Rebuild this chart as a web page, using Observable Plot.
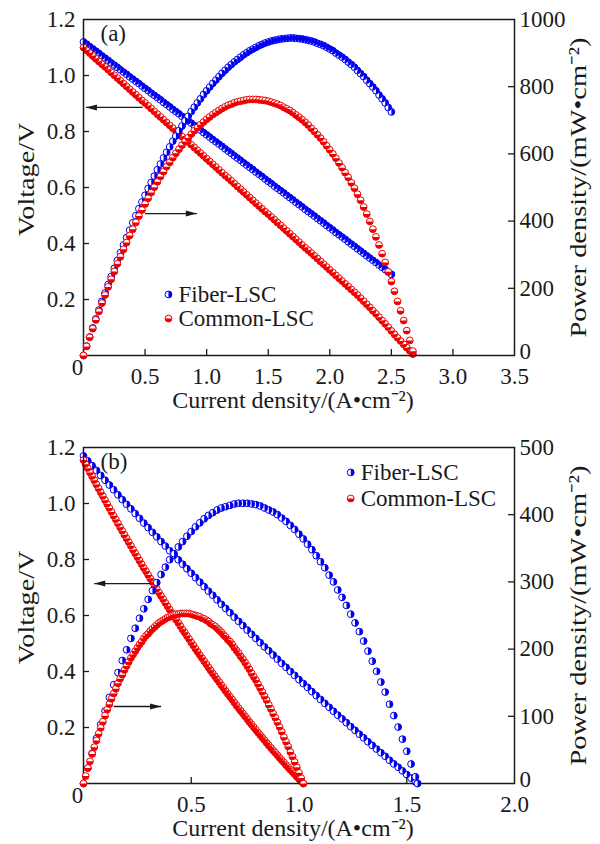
<!DOCTYPE html>
<html><head><meta charset="utf-8">
<script src="https://cdn.jsdelivr.net/npm/d3@7"></script>
<script src="https://cdn.jsdelivr.net/npm/@observablehq/plot@0.6"></script>
<style>
body{margin:0;background:#fff;overflow:hidden;width:600px;height:844px}
.panel{position:absolute;left:0;width:600px;height:416px}
.panel svg{position:absolute;left:0;top:0}
</style></head><body>
<div id="a" class="panel" style="top:0"></div>
<div id="b" class="panel" style="top:428px"></div>
<script>
// ---------- Panel (a) data ----------
const aFiberI = [0,0.025,0.05,0.075,0.1,0.125,0.15,0.175,0.2,0.225,0.25,0.275,0.3,0.325,0.35,0.375,0.4,0.425,0.45,0.475,0.5,0.525,0.55,0.575,0.6,0.625,0.65,0.675,0.7,0.725,0.75,0.775,0.8,0.825,0.85,0.875,0.9,0.925,0.95,0.975,1,1.025,1.05,1.075,1.1,1.125,1.15,1.175,1.2,1.225,1.25,1.275,1.3,1.325,1.35,1.375,1.4,1.425,1.45,1.475,1.5,1.525,1.55,1.575,1.6,1.625,1.65,1.675,1.7,1.725,1.75,1.775,1.8,1.825,1.85,1.875,1.9,1.925,1.95,1.975,2,2.025,2.05,2.075,2.1,2.125,2.15,2.175,2.2,2.225,2.25,2.275,2.3,2.325,2.35,2.375,2.4,2.425,2.45,2.475,2.5];
const aFiberV = [1.120,1.112,1.103,1.095,1.087,1.079,1.070,1.062,1.054,1.045,1.037,1.029,1.020,1.012,1.004,0.995,0.987,0.979,0.971,0.962,0.954,0.946,0.937,0.929,0.921,0.913,0.904,0.896,0.888,0.879,0.871,0.863,0.854,0.846,0.838,0.830,0.821,0.813,0.805,0.796,0.788,0.780,0.771,0.763,0.755,0.747,0.738,0.730,0.722,0.713,0.705,0.697,0.688,0.680,0.672,0.664,0.655,0.647,0.639,0.630,0.622,0.614,0.605,0.597,0.589,0.581,0.572,0.564,0.556,0.547,0.539,0.531,0.522,0.514,0.506,0.498,0.489,0.481,0.473,0.464,0.456,0.448,0.439,0.431,0.423,0.415,0.406,0.398,0.390,0.381,0.373,0.365,0.356,0.348,0.340,0.332,0.323,0.315,0.307,0.298,0.290];
const aFiberP = [0,28,55,82,109,135,161,186,211,235,259,283,306,329,351,373,395,416,437,457,477,497,515,534,553,570,588,605,621,638,653,669,683,698,712,726,739,752,764,777,788,799,810,820,830,840,849,858,866,874,881,888,895,901,907,912,917,922,926,930,933,936,938,940,942,943,944,945,945,944,943,942,940,938,936,933,929,926,922,917,912,907,900,894,888,881,873,866,858,848,839,830,819,809,799,788,775,764,752,738,725];
const aCommonI = [0,0.025,0.05,0.075,0.1,0.125,0.15,0.175,0.2,0.225,0.25,0.275,0.3,0.325,0.35,0.375,0.4,0.425,0.45,0.475,0.5,0.525,0.55,0.575,0.6,0.625,0.65,0.675,0.7,0.725,0.75,0.775,0.8,0.825,0.85,0.875,0.9,0.925,0.95,0.975,1,1.025,1.05,1.075,1.1,1.125,1.15,1.175,1.2,1.225,1.25,1.275,1.3,1.325,1.35,1.375,1.4,1.425,1.45,1.475,1.5,1.525,1.55,1.575,1.6,1.625,1.65,1.675,1.7,1.725,1.75,1.775,1.8,1.825,1.85,1.875,1.9,1.925,1.95,1.975,2,2.025,2.05,2.075,2.1,2.125,2.15,2.175,2.2,2.225,2.25,2.275,2.3,2.325,2.35,2.375,2.4,2.425,2.45,2.475,2.5,2.525,2.55,2.575,2.6,2.625,2.65,2.675];
const aCommonV = [1.100,1.090,1.080,1.070,1.060,1.050,1.040,1.031,1.021,1.011,1.001,0.991,0.981,0.971,0.961,0.951,0.941,0.931,0.921,0.911,0.902,0.892,0.882,0.872,0.862,0.852,0.842,0.832,0.822,0.812,0.802,0.792,0.782,0.772,0.763,0.753,0.743,0.733,0.723,0.713,0.703,0.693,0.683,0.673,0.663,0.653,0.643,0.634,0.624,0.614,0.604,0.594,0.584,0.574,0.564,0.554,0.544,0.534,0.524,0.514,0.505,0.495,0.485,0.475,0.465,0.455,0.445,0.435,0.425,0.415,0.405,0.395,0.385,0.376,0.366,0.356,0.346,0.336,0.326,0.316,0.306,0.296,0.286,0.276,0.266,0.256,0.246,0.236,0.226,0.216,0.205,0.194,0.183,0.172,0.160,0.149,0.137,0.125,0.113,0.101,0.088,0.076,0.063,0.052,0.040,0.028,0.017,0.005];
const aCommonP = [0,27,54,80,106,131,156,180,204,227,250,273,294,316,336,357,376,396,415,433,451,468,485,501,517,533,547,562,575,589,602,614,626,637,648,659,669,678,687,695,703,710,717,723,729,735,740,745,748,752,755,757,759,761,762,762,762,761,760,759,757,754,751,748,744,739,734,729,723,716,709,702,694,686,676,667,657,647,636,624,612,600,587,573,559,544,530,514,498,480,462,442,421,399,376,353,329,303,277,249,220,191,161,133,104,74,45,13];

// ---------- Panel (b) data ----------
const bFiberI = [0,0.02,0.04,0.06,0.08,0.1,0.12,0.14,0.16,0.18,0.2,0.22,0.24,0.26,0.28,0.3,0.32,0.34,0.36,0.38,0.4,0.42,0.44,0.46,0.48,0.5,0.52,0.54,0.56,0.58,0.6,0.62,0.64,0.66,0.68,0.7,0.72,0.74,0.76,0.78,0.8,0.82,0.84,0.86,0.88,0.9,0.92,0.94,0.96,0.98,1,1.02,1.04,1.06,1.08,1.1,1.12,1.14,1.16,1.18,1.2,1.22,1.24,1.26,1.28,1.3,1.32,1.34,1.36,1.38,1.4,1.42,1.44,1.46,1.48,1.5,1.52,1.54,1.55];
const bFiberV = [1.170,1.152,1.135,1.118,1.100,1.083,1.066,1.049,1.031,1.014,0.997,0.981,0.964,0.947,0.930,0.914,0.897,0.881,0.864,0.848,0.831,0.815,0.799,0.783,0.767,0.751,0.735,0.719,0.703,0.687,0.672,0.656,0.640,0.625,0.610,0.594,0.579,0.564,0.548,0.533,0.518,0.503,0.488,0.474,0.459,0.444,0.429,0.415,0.400,0.386,0.371,0.357,0.343,0.328,0.314,0.300,0.286,0.272,0.258,0.244,0.231,0.217,0.203,0.190,0.176,0.163,0.149,0.136,0.123,0.110,0.097,0.083,0.070,0.058,0.045,0.032,0.019,0.006,0.000];
const bFiberP = [0,23,45,67,88,108,128,147,165,183,199,216,231,246,260,274,287,299,311,322,333,342,352,360,368,375,382,388,394,399,403,407,410,412,414,416,417,417,417,416,415,413,410,407,404,400,395,390,384,378,371,364,356,348,339,330,321,310,300,288,277,265,252,239,226,212,197,182,167,151,136,118,101,84,66,48,29,10,0];
const bCommonI = [0,0.01,0.02,0.03,0.04,0.05,0.06,0.07,0.08,0.09,0.1,0.11,0.12,0.13,0.14,0.15,0.16,0.17,0.18,0.19,0.2,0.21,0.22,0.23,0.24,0.25,0.26,0.27,0.28,0.29,0.3,0.31,0.32,0.33,0.34,0.35,0.36,0.37,0.38,0.39,0.4,0.41,0.42,0.43,0.44,0.45,0.46,0.47,0.48,0.49,0.5,0.51,0.52,0.53,0.54,0.55,0.56,0.57,0.58,0.59,0.6,0.61,0.62,0.63,0.64,0.65,0.66,0.67,0.68,0.69,0.7,0.71,0.72,0.73,0.74,0.75,0.76,0.77,0.78,0.79,0.8,0.81,0.82,0.83,0.84,0.85,0.86,0.87,0.88,0.89,0.9,0.91,0.92,0.93,0.94,0.95,0.96,0.97,0.98,0.99,1,1.01,1.02];
const bCommonV = [1.155,1.140,1.126,1.111,1.097,1.083,1.068,1.054,1.040,1.026,1.012,0.998,0.984,0.970,0.956,0.943,0.929,0.915,0.902,0.888,0.875,0.862,0.849,0.835,0.822,0.809,0.796,0.783,0.770,0.758,0.745,0.732,0.720,0.707,0.695,0.682,0.670,0.658,0.645,0.633,0.621,0.609,0.597,0.585,0.574,0.562,0.550,0.539,0.527,0.516,0.504,0.493,0.481,0.470,0.459,0.448,0.437,0.426,0.415,0.404,0.393,0.383,0.372,0.362,0.351,0.341,0.330,0.320,0.310,0.300,0.289,0.279,0.269,0.259,0.250,0.240,0.230,0.220,0.211,0.201,0.192,0.182,0.173,0.164,0.155,0.145,0.136,0.127,0.118,0.110,0.101,0.092,0.083,0.075,0.066,0.058,0.049,0.041,0.033,0.024,0.016,0.008,0.000];
const bCommonP = [0,11,23,33,44,54,64,74,83,92,101,110,118,126,134,141,149,156,162,169,175,181,187,192,197,202,207,211,216,220,223,227,230,233,236,239,241,243,245,247,248,250,251,252,252,253,253,253,253,253,252,251,250,249,248,246,245,243,241,238,236,234,231,228,225,221,218,214,211,207,202,198,194,189,185,180,175,170,164,159,154,148,142,136,130,124,117,111,104,98,91,84,77,69,62,55,47,40,32,24,16,8,0];

// ---------- Axis ticks / labels ----------
const seriesNames = ["Fiber-LSC", "Common-LSC"];
const xTicksA = [0.5,1.0,1.5,2.0,2.5,3.0,3.5];
const xTicksB = [0.5,1.0,1.5,2.0];
const vTicks = [0.2,0.4,0.6,0.8,1.0,1.2];
const pTicksA = [0,200,400,600,800,1000];
const pTicksB = [0,100,200,300,400,500];
const xTitle = "Current density/(A\u2022cm\u207B\u00B2)";
const vTitle = "Voltage/V";
const pTitle = "Power density/(mW\u2022cm\u207B\u00B2)";

// annotations (data units)
const arrowsA = [{x1:0.48, x2:0.02, v:0.886, rot:180}, {x1:0.50, x2:0.92, v:0.507, rot:0}];
const arrowsB = [{x1:0.31, x2:0.05, v:0.714, rot:180}, {x1:0.14, x2:0.36, v:0.275, rot:0}];
const legendA = [{x:0.69, v:0.218}, {x:0.69, v:0.132}];
const legendB = [{x:1.24, v:1.111}, {x:1.24, v:1.018}];

const BLUE = "#0000f0", RED = "#f00000", INK = "#1a1a1a";
const W = 600, H = 416, M = {top:19, right:86, bottom:61, left:83};
const FW = W - M.left - M.right, FH = H - M.top - M.bottom;
const FONT = "'Liberation Serif','Times New Roman',serif";
const style = {fontFamily: FONT, fontSize: "23px", background: "transparent", color: INK, overflow: "visible"};

const halfRight = {draw(ctx, size){const r = Math.sqrt(size/Math.PI); ctx.moveTo(0,-r); ctx.arc(0,0,r,-Math.PI/2,Math.PI/2); ctx.closePath();}};
const halfBottom = {draw(ctx, size){const r = Math.sqrt(size/Math.PI); ctx.moveTo(r,0); ctx.arc(0,0,r,0,Math.PI); ctx.closePath();}};
const head = {draw(ctx){ctx.moveTo(0,0); ctx.lineTo(-11,-3); ctx.lineTo(-11,3); ctx.closePath();}};

function rows(I, Y){ return I.map((x,i) => ({x, y: Y[i]})); }
function markers(data, color, half, r = 3.4){
  return [
    Plot.dot(data, {x:"x", y:"y", r, stroke: color, fill: "white", strokeWidth: 1}),
    Plot.dot(data, {x:"x", y:"y", r, symbol: half, fill: color, stroke: "none"})
  ];
}
// stretch the rotated titles along their length, as in the original figure
function stretch(svg, text, len){
  svg.querySelectorAll("text").forEach(t => {
    if (t.textContent === text) { t.setAttribute("textLength", len); t.setAttribute("lengthAdjust", "spacingAndGlyphs"); }
  });
}

function panel(el, cfg){
  const fiberV = rows(cfg.fI, cfg.fV), commonV = rows(cfg.cI, cfg.cV);
  const fiberP = rows(cfg.fI, cfg.fP), commonP = rows(cfg.cI, cfg.cP);
  const xInner = cfg.xTicks.filter(d => d < cfg.xmax);
  const common = {width: W, height: H, marginTop: M.top, marginRight: M.right, marginBottom: M.bottom, marginLeft: M.left, style};
  const voltage = Plot.plot({
    ...common,
    x: {domain: [0, cfg.xmax]},
    y: {domain: [0, 1.2]},
    marks: [
      ...markers(fiberV, BLUE, halfRight),
      ...markers(commonV, RED, halfBottom),
      Plot.tickY(vTicks.slice(0,-1), {y: d => d, insetRight: FW - 6, stroke: INK, strokeWidth: 1.3}),
      Plot.tickX(xInner, {x: d => d, insetTop: FH - 6, stroke: INK, strokeWidth: 1.3}),
      Plot.axisY(vTicks, {anchor: "left", tickSize: 0, tickPadding: 8, tickFormat: ".1f", label: null}),
      Plot.axisX(cfg.xTicks, {anchor: "bottom", tickSize: 0, tickPadding: 12, tickFormat: ".1f", label: null}),
      Plot.text(["0"], {x: 0, y: 0, text: d => d, dx: -6, dy: 12}),
      Plot.text([xTitle], {frameAnchor: "bottom", text: d => d, dx: -6, dy: 52, fontSize: 24}),
      Plot.text([vTitle], {frameAnchor: "left", text: d => d, textAnchor: "middle", rotate: -90, dx: -57, dy: -8, fontSize: 24}),
      Plot.text([cfg.tag], {frameAnchor: "top-left", text: d => d, dx: 17, dy: 5}),
      Plot.link(cfg.arrows, {x1: "x1", x2: "x2", y1: "v", y2: "v", stroke: INK, strokeWidth: 1.3}),
      Plot.dot(cfg.arrows, {x: "x2", y: "v", symbol: head, rotate: "rot", fill: INK, stroke: "none"}),
      ...markers([{x: cfg.legend[0].x, y: cfg.legend[0].v}], BLUE, halfRight),
      ...markers([{x: cfg.legend[1].x, y: cfg.legend[1].v}], RED, halfBottom),
      Plot.text(cfg.legend, {x: "x", y: "v", text: (d, i) => seriesNames[i], dx: 10, textAnchor: "start"}),
      Plot.frame({stroke: INK, strokeWidth: 1.5})
    ]
  });
  const power = Plot.plot({
    ...common,
    x: {domain: [0, cfg.xmax], axis: null},
    y: {domain: [0, cfg.pmax]},
    marks: [
      ...markers(fiberP, BLUE, halfRight),
      ...markers(commonP, RED, halfBottom),
      Plot.tickY(cfg.pTicks.slice(1,-1), {y: d => d, insetLeft: FW - 6, stroke: INK, strokeWidth: 1.3}),
      Plot.axisY(cfg.pTicks.slice(1), {anchor: "right", tickSize: 0, tickPadding: 5, tickFormat: d => String(d), label: null}),
      Plot.text([cfg.pTicks[0]], {y: d => d, frameAnchor: "right", text: d => String(d), textAnchor: "start", dx: 5, dy: -4}),
      Plot.text([pTitle], {frameAnchor: "right", text: d => d, textAnchor: "middle", rotate: -90, dx: 64, fontSize: 24})
    ]
  });
  stretch(voltage, vTitle, 114);
  stretch(power, pTitle, 300);
  el.appendChild(voltage);
  el.appendChild(power);
}

panel(document.getElementById("a"), {fI: aFiberI, fV: aFiberV, fP: aFiberP, cI: aCommonI, cV: aCommonV, cP: aCommonP,
  xmax: 3.5, pmax: 1000, xTicks: xTicksA, pTicks: pTicksA, tag: "(a)", arrows: arrowsA, legend: legendA});
panel(document.getElementById("b"), {fI: bFiberI, fV: bFiberV, fP: bFiberP, cI: bCommonI, cV: bCommonV, cP: bCommonP,
  xmax: 2.0, pmax: 500, xTicks: xTicksB, pTicks: pTicksB, tag: "(b)", arrows: arrowsB, legend: legendB});
</script>
</body></html>
